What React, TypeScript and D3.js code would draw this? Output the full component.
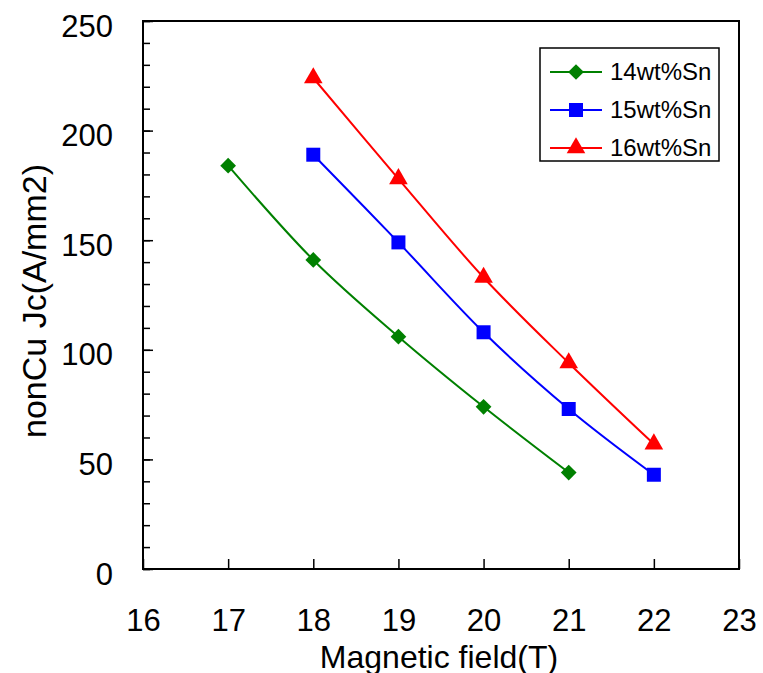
import React, { useEffect, useRef } from "react";
import * as d3 from "d3";

// field values (T)
const fields14 = [17, 18, 19, 20, 21];
const fields15 = [18, 19, 20, 21, 22];
const fields16 = [18, 19, 20, 21, 22];
// nonCu Jc (A/mm2)
const jc14 = [184, 141, 106, 74, 44];
const jc15 = [189, 149, 108, 73, 43];
const jc16 = [224, 178, 133, 94, 57];

const seriesNames = ["14wt%Sn", "15wt%Sn", "16wt%Sn"];
const seriesColors = ["#008000", "#0000ff", "#ff0000"];
const seriesSymbols = [d3.symbolSquare, d3.symbolSquare, d3.symbolTriangle];

const xTicks = [16, 17, 18, 19, 20, 21, 22, 23];
const yTicks = [0, 50, 100, 150, 200, 250];

export default function App() {
  const ref = useRef<SVGSVGElement>(null);

  useEffect(() => {
    const svg = d3.select(ref.current);
    svg.selectAll("*").remove();

    const width = 763, height = 673;
    const margin = { top: 21, right: 24, bottom: 104, left: 143 };
    const font = "'Liberation Sans', Arial, sans-serif";

    const x = d3.scaleLinear().domain([16, 23]).range([margin.left, width - margin.right]);
    const y = d3.scaleLinear().domain([0, 250]).range([height - margin.bottom, margin.top]);

    svg.append("rect").attr("width", width).attr("height", height).attr("fill", "white");

    // minor y ticks
    svg.append("g")
      .attr("transform", `translate(${margin.left},0)`)
      .call(d3.axisLeft(y).tickValues(d3.range(0, 251, 10)).tickSize(-7).tickSizeOuter(0).tickFormat(() => ""))
      .call(g => g.select(".domain").remove())
      .selectAll("line").attr("stroke", "#000").attr("stroke-width", 1.5);

    // major y ticks
    const yAxis = svg.append("g")
      .attr("transform", `translate(${margin.left},0)`)
      .call(d3.axisLeft(y).tickValues(yTicks).tickSize(-10).tickSizeOuter(0).tickPadding(30));
    yAxis.select(".domain").remove();
    yAxis.selectAll("line").attr("stroke", "#000").attr("stroke-width", 1.5);
    yAxis.selectAll("text").attr("dy", "15px").style("font-size", "31px").style("font-family", font).attr("fill", "#000");

    const xAxis = svg.append("g")
      .attr("transform", `translate(0,${y(0)})`)
      .call(d3.axisBottom(x).tickValues(xTicks).tickSize(-10).tickSizeOuter(0).tickPadding(40).tickFormat(d3.format("d")));
    xAxis.select(".domain").remove();
    xAxis.selectAll("line").attr("stroke", "#000").attr("stroke-width", 1.5);
    xAxis.selectAll("text").attr("dy", "0").attr("y", 62)
      .style("font-size", "31px").style("font-family", font).attr("fill", "#000");

    // frame
    svg.append("rect")
      .attr("x", margin.left).attr("y", margin.top)
      .attr("width", x(23) - x(16)).attr("height", y(0) - y(250))
      .attr("fill", "none").attr("stroke", "#000").attr("stroke-width", 2);

    const line = d3.line<[number, number]>()
      .x(d => x(d[0])).y(d => y(d[1]))
      .curve(d3.curveCatmullRom.alpha(0));

    const allData: [number, number][][] = [
      fields14.map((f, i) => [f, jc14[i]]),
      fields15.map((f, i) => [f, jc15[i]]),
      fields16.map((f, i) => [f, jc16[i]]),
    ];
    const sizes = [124, 196, 150];
    const rot = (s: number) => (s === 0 ? " rotate(45)" : "");

    allData.forEach((data, s) => {
      svg.append("path")
        .attr("d", line(data))
        .attr("fill", "none")
        .attr("stroke", seriesColors[s])
        .attr("stroke-width", 2);
      svg.append("g").selectAll("path").data(data).join("path")
        .attr("transform", d => `translate(${x(d[0])},${y(d[1])})${rot(s)}`)
        .attr("d", d3.symbol(seriesSymbols[s], sizes[s]))
        .attr("fill", seriesColors[s]);
    });

    // legend
    const lg = svg.append("g");
    lg.append("rect")
      .attr("x", 540).attr("y", 48).attr("width", 179).attr("height", 113)
      .attr("fill", "white").attr("stroke", "#000").attr("stroke-width", 1.5);
    seriesNames.forEach((name, s) => {
      const ry = 72 + s * 38;
      lg.append("line").attr("x1", 550).attr("x2", 602).attr("y1", ry).attr("y2", ry)
        .attr("stroke", seriesColors[s]).attr("stroke-width", 2);
      lg.append("path")
        .attr("transform", `translate(576,${ry})${rot(s)}`)
        .attr("d", d3.symbol(seriesSymbols[s], sizes[s]))
        .attr("fill", seriesColors[s]);
      lg.append("text").attr("x", 610).attr("y", ry + 8)
        .style("font-size", "24px").style("font-family", font).text(name);
    });

    // axis titles
    svg.append("text")
      .attr("x", 439).attr("y", 668)
      .attr("text-anchor", "middle")
      .style("font-size", "32px").style("font-family", font)
      .text("Magnetic field(T)");
    svg.append("text")
      .attr("transform", "translate(46,301) rotate(-90)")
      .attr("text-anchor", "middle")
      .style("font-size", "34px").style("font-family", font)
      .text("nonCu Jc(A/mm2)");
  }, []);

  return (
    <svg ref={ref} width={763} height={673} style={{ position: "absolute", left: 0, top: 0 }}></svg>
  );
}
